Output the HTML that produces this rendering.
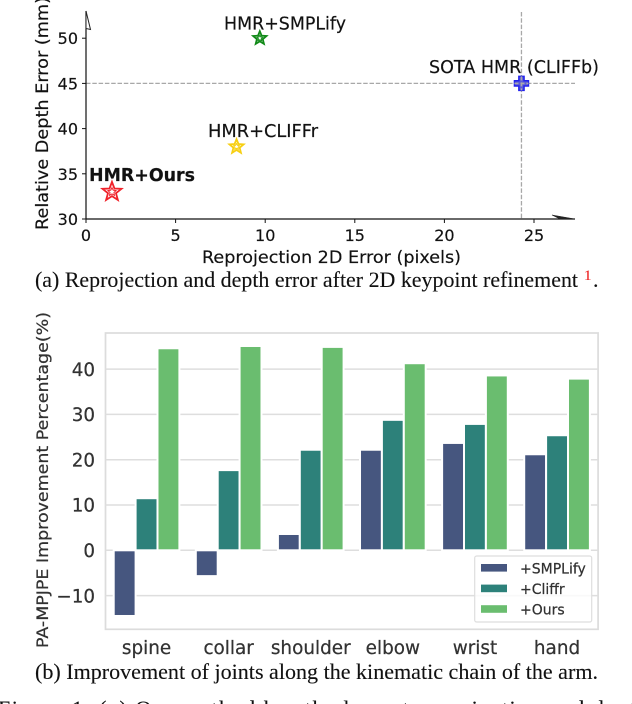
<!DOCTYPE html>
<html>
<head>
<meta charset="utf-8">
<style>
html,body{margin:0;padding:0;background:#fff;width:632px;height:704px;overflow:hidden}
svg{display:block}
.dj{font-family:"DejaVu Sans","Liberation Sans",sans-serif;stroke:#222;stroke-width:.2}
.sf{font-family:"Liberation Serif",serif;fill:#111;stroke:#111;stroke-width:.12}
</style>
</head>
<body>
<svg id="fig" xmlns="http://www.w3.org/2000/svg" width="632" height="704" viewBox="0 0 632 704">
<text class="sf" x="35" y="287" font-size="22" textLength="543" lengthAdjust="spacingAndGlyphs">(a) Reprojection and depth error after 2D keypoint refinement</text>
<text class="sf" x="584" y="280" font-size="15" style="fill:#e22;stroke:#e22">1</text>
<text class="sf" x="593" y="287" font-size="22">.</text>
<text class="sf" x="35" y="679" font-size="22" textLength="563" lengthAdjust="spacingAndGlyphs">(b) Improvement of joints along the kinematic chain of the arm.</text>
<text class="sf" x="-2" y="716" font-size="22" textLength="650" lengthAdjust="spacing">Figure 1: (a) Our method has the lowest reprojection and depth</text>
<g id="scatter"></g>
<g id="bars"></g>
</svg>
<script>
// Scatter chart data
var scatterNames = ["HMR+Ours", "HMR+SMPLify", "HMR+CLIFFr", "SOTA HMR (CLIFFb)"];
var scatterX = [1.45, 9.7, 8.4, 24.3];
var scatterY = [33, 50, 38, 45];
var scatterXTicks = [0, 5, 10, 15, 20, 25];
var scatterYTicks = [30, 35, 40, 45, 50];
var refX = 24.3;
var refY = 45;

// Bar chart data
var joints = ["spine", "collar", "shoulder", "elbow", "wrist", "hand"];
var smplify = [-14.5, -5.7, 3.6, 22.2, 23.7, 21.2];
var cliffr = [11.5, 17.7, 22.2, 28.8, 27.9, 25.4];
var ours = [44.6, 45.1, 44.9, 41.3, 38.6, 37.9];
var barYTicks = [-10, 0, 10, 20, 30, 40];
var seriesNames = ["+SMPLify", "+Cliffr", "+Ours"];

var NS = "http://www.w3.org/2000/svg";
function mk(tag, attrs, parent, txt) {
  var n = document.createElementNS(NS, tag);
  for (var k in attrs) n.setAttribute(k, attrs[k]);
  if (txt !== undefined) n.textContent = txt;
  parent.appendChild(n);
  return n;
}
function sx(v) { return 86 + v * 17.92; }
function sy(v) { return 219 - (v - 30) * 9.04; }
function by(v) { return 550.3 - v * 4.53; }
function bandX(i) { return 105.5 + (i + 0.5) * 82.1; }
function minus(v) { return v < 0 ? "\u2212" + Math.abs(v) : String(v); }
function starPts(cx, cy, R, r) {
  var p = [];
  for (var i = 0; i < 10; i++) {
    var a = -Math.PI / 2 + i * Math.PI / 5, d = i % 2 ? r : R;
    p.push((cx + d * Math.cos(a)).toFixed(2) + "," + (cy + d * Math.sin(a)).toFixed(2));
  }
  return p.join(" ");
}
function plusPts(cx, cy, a, b) {
  return [[-b,-a],[b,-a],[b,-b],[a,-b],[a,b],[b,b],[b,a],[-b,a],[-b,b],[-a,b],[-a,-b],[-b,-b]]
    .map(function (q) { return (cx + q[0]) + "," + (cy + q[1]); }).join(" ");
}

var sg = document.getElementById("scatter");
var e;
e = mk("line", {x1: sx(refX), x2: sx(refX), y1: 12, y2: 219, stroke: "#a8a8a8", "stroke-width": 1.3, "stroke-dasharray": "4.5 1.8"}, sg);


e = mk("line", {x1: 86, x2: 575, y1: sy(refY), y2: sy(refY), stroke: "#a8a8a8", "stroke-width": 1.3, "stroke-dasharray": "4.5 1.8"}, sg);



e = mk("line", {x1: 86, x2: 86, y1: 11, y2: 219.5, stroke: "#111", "stroke-width": 1.2}, sg);


e = mk("line", {x1: 85.5, x2: 575, y1: 219, y2: 219, stroke: "#111", "stroke-width": 1.2}, sg);


e = mk("polygon", {points: "86,11 90.5,29.5 86,28.5", fill: "#fff", stroke: "#222", "stroke-width": 1}, sg);


e = mk("polygon", {points: "575,219 552,215 560,219", fill: "#222", stroke: "#222", "stroke-width": 0.6}, sg);



scatterXTicks.forEach(function (t) {
  var m = mk("line", {x1: sx(t), x2: sx(t), y1: 219, y2: 223, stroke: "#111", "stroke-width": 1}, sg);
  
  
  var l = mk("text", {x: sx(t), y: 241, "text-anchor": "middle", "font-size": 16, fill: "#111", class: "dj"}, sg, String(t));
  
  
});
scatterYTicks.forEach(function (t) {
  var m = mk("line", {x1: 82, x2: 86, y1: sy(t), y2: sy(t), stroke: "#111", "stroke-width": 1}, sg);
  
  
  var l = mk("text", {x: 78, y: sy(t) + 6, "text-anchor": "end", "font-size": 16, fill: "#111", class: "dj"}, sg, String(t));
  
  
});
e = mk("text", {x: 202, y: 263, "font-size": 17, fill: "#111", class: "dj", textLength: 259, lengthAdjust: "spacingAndGlyphs"}, sg, "Reprojection 2D Error (pixels)");


e = mk("text", {transform: "translate(48,230) rotate(-90)", "font-size": 17, fill: "#111", class: "dj", textLength: 233, lengthAdjust: "spacingAndGlyphs"}, sg, "Relative Depth Error (mm)");



var markerStyles = [
  {c: "#f0222a", R: 10, r: 4.2, lx: 89, ly: 181, w: "bold", tl: 106},
  {c: "#118a18", R: 7, r: 3.1, lx: 224, ly: 29.5, w: "normal", tl: 122},
  {c: "#f7cf12", R: 7.5, r: 3.3, lx: 208, ly: 137, w: "normal", tl: 110},
  {c: "#2222ee", R: 7, r: 2.6, lx: 429, ly: 73, w: "normal", tl: 170}
];
scatterNames.forEach(function (name, i) {
  var st = markerStyles[i];
  var cx = sx(scatterX[i]), cy = sy(scatterY[i]);
  var g = mk("g", {}, sg);
  
  
  if (i < 3) {
    mk("polygon", {points: starPts(cx, cy, st.R, st.r), fill: "#fff", stroke: st.c, "stroke-width": 1.8, "stroke-linejoin": "miter"}, g);
    mk("polygon", {points: starPts(cx, cy, st.R * 0.42, st.r * 0.5), fill: "none", stroke: st.c, "stroke-width": 1}, g);
  } else {
    mk("polygon", {points: plusPts(cx, cy, st.R, st.r), fill: "#5a5ad8", stroke: st.c, "stroke-width": 1.5}, g);
    mk("line", {x1: cx, x2: cx, y1: cy - 7, y2: cy + 7, stroke: "#aaa", "stroke-width": 1.6, "stroke-dasharray": "4 2"}, g);
    mk("line", {x1: cx - 7, x2: cx + 7, y1: cy, y2: cy, stroke: "#aaa", "stroke-width": 1.6, "stroke-dasharray": "4 2"}, g);
  }
  var l = mk("text", {x: st.lx, y: st.ly, "font-size": 17.5, "font-weight": st.w, fill: "#111", class: "dj", textLength: st.tl, lengthAdjust: "spacingAndGlyphs"}, sg, name);
  
  
});

var bg = document.getElementById("bars");
e = mk("rect", {x: 105.5, y: 333, width: 492.6, height: 296.3, fill: "#fff", stroke: "#dcdcdc", "stroke-width": 1.7}, bg);


barYTicks.forEach(function (t) {
  var g = mk("line", {x1: 105.5, x2: 598, y1: by(t), y2: by(t), stroke: "#dedede", "stroke-width": 1.5}, bg);
  
  
  var l = mk("text", {x: 95, y: by(t) + 6.7, "text-anchor": "end", "font-size": 18.3, fill: "#333", class: "dj"}, bg, minus(t));
  
  
});
var barColors = ["#46567f", "#2d817a", "#6abd6f"];
var barSeries = [smplify, cliffr, ours];
var barW = 82.1 * 0.8 / 3;
barSeries.forEach(function (vals, s) {
  vals.forEach(function (v, i) {
    var x = bandX(i) + (s - 1.5) * barW;
    var top = Math.min(by(v), by(0)), h = Math.abs(by(v) - by(0));
    var r = mk("rect", {x: x, y: top, width: barW, height: h, fill: barColors[s], stroke: "#fff", "stroke-width": 2}, bg);
    
    
  });
});
joints.forEach(function (j, i) {
  var l = mk("text", {x: bandX(i), y: 654, "text-anchor": "middle", "font-size": 18.4, fill: "#333", class: "dj"}, bg, j);
  
  
});
e = mk("text", {transform: "translate(48,648) rotate(-90)", "font-size": 16, fill: "#333", class: "dj", textLength: 336, lengthAdjust: "spacingAndGlyphs"}, bg, "PA-MPJPE Improvement Percentage(%)");



var lg = mk("g", {}, bg);


mk("rect", {x: 474.7, y: 556, width: 117, height: 66, rx: 2, fill: "#fff", "fill-opacity": 0.8, stroke: "#dedede", "stroke-width": 1.2}, lg);
seriesNames.forEach(function (name, s) {
  var y = 564 + s * 20.6;
  var sw = mk("rect", {x: 481, y: y, width: 26, height: 7.6, fill: barColors[s]}, lg);
  
  
  var l = mk("text", {x: 520, y: y + 9.5, "font-size": 14, fill: "#333", class: "dj"}, lg, name);
  
  
});
</script>
</body>
</html>
